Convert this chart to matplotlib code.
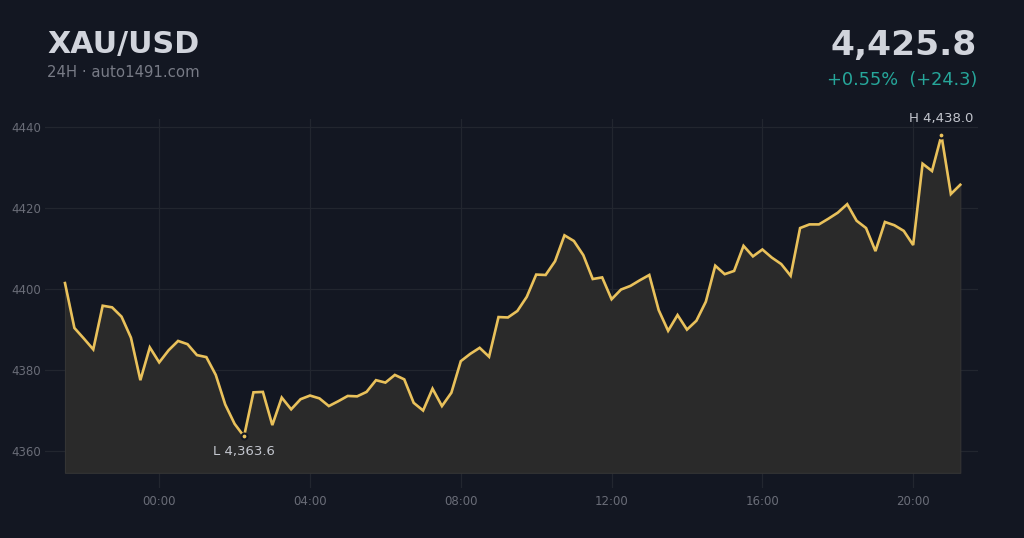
import matplotlib
matplotlib.use("Agg")
import matplotlib.pyplot as plt
import pandas as pd
import numpy as np

title = "XAU/USD"
subtitle = "24H · auto1491.com"
last_price = "4,425.8"
change_text = "+0.55%  (+24.3)"

start_time = "2024-01-01 21:30"
prices = [
    4401.5, 4390.4, 4387.8, 4385.1, 4395.9, 4395.5, 4393.2, 4388.0, 4377.5, 4385.6,
    4381.9, 4384.9, 4387.2, 4386.4, 4383.7, 4383.2, 4378.8, 4371.5, 4366.7, 4363.6,
    4374.5, 4374.6, 4366.4, 4373.2, 4370.3, 4372.8, 4373.7, 4373.0, 4371.1, 4372.3,
    4373.6, 4373.5, 4374.6, 4377.5, 4376.9, 4378.8, 4377.7, 4371.9, 4370.0, 4375.4,
    4371.1, 4374.4, 4382.2, 4384.0, 4385.5, 4383.3, 4393.1, 4393.0, 4394.6, 4398.1,
    4403.6, 4403.5, 4406.9, 4413.3, 4411.9, 4408.4, 4402.5, 4402.9, 4397.5, 4399.9,
    4400.8, 4402.2, 4403.5, 4394.8, 4389.7, 4393.6, 4390.0, 4392.2, 4396.9, 4405.8,
    4403.7, 4404.5, 4410.7, 4408.1, 4409.8, 4407.8, 4406.2, 4403.3, 4415.1, 4416.0,
    4416.0, 4417.4, 4418.9, 4421.0, 4416.9, 4415.1, 4409.4, 4416.6, 4415.8, 4414.4,
    4410.9, 4431.0, 4429.2, 4438.0, 4423.5, 4425.8,
]
yticks = [4360, 4380, 4400, 4420, 4440]
xtick_labels = ["00:00", "04:00", "08:00", "12:00", "16:00", "20:00"]

times = pd.date_range(start_time, periods=len(prices), freq="15min")
prices_arr = np.array(prices)

BG = "#131722"
GRID = "#22262f"
LINE = "#e9c15b"
FILL = "#2a2a2a"

fig = plt.figure(figsize=(10.24, 5.38), dpi=100, facecolor=BG)
ax = fig.add_axes([45 / 1024, 1 - 488 / 538, (978 - 45) / 1024, (488 - 119) / 538])
ax.set_facecolor(BG)

fill_base = 4354.6
ax.fill_between(times, prices_arr, fill_base, facecolor=FILL, edgecolor="#343434",
                linewidth=0.8, zorder=2)
ax.plot(times, prices_arr, color=LINE, lw=1.9, zorder=3, solid_joinstyle="miter")

i_lo = int(np.argmin(prices_arr))
i_hi = int(np.argmax(prices_arr))
ax.scatter([times[i_lo]], [prices_arr[i_lo]], s=18, color=LINE, edgecolor=BG, linewidth=1.5, zorder=4)
ax.scatter([times[i_hi]], [prices_arr[i_hi]], s=18, color=LINE, edgecolor=BG, linewidth=1.5, zorder=4)
ax.annotate(f"L {prices_arr[i_lo]:,.1f}", (times[i_lo], prices_arr[i_lo]), xytext=(0, -11),
            textcoords="offset points", ha="center", va="center", color="#c3c6ce", fontsize=9.5)
ax.annotate(f"H {prices_arr[i_hi]:,.1f}", (times[i_hi], prices_arr[i_hi]), xytext=(0, 12),
            textcoords="offset points", ha="center", va="center", color="#c3c6ce", fontsize=9.5)

t0 = pd.Timestamp("2024-01-02 00:00")
ax.set_xlim(t0 - pd.Timedelta(hours=3.03), t0 + pd.Timedelta(hours=21.72))
ax.set_ylim(4350.85, 4442.05)

xt = [t0 + pd.Timedelta(hours=4 * k) for k in range(len(xtick_labels))]
ax.set_xticks(xt)
ax.set_xticklabels(xtick_labels)
ax.set_yticks(yticks)
ax.set_yticklabels([str(v) for v in yticks])
ax.tick_params(axis="both", length=0, colors="#6a6d78", labelsize=8.5)
ax.tick_params(axis="x", pad=5)
ax.tick_params(axis="y", pad=3)
ax.grid(True, color=GRID, lw=0.9, zorder=1)
for s in ax.spines.values():
    s.set_visible(False)

fig.text(47 / 1024, 1 - 53.3 / 538, title, color="#d1d4dc", fontsize=21.7, fontweight="bold", ha="left", va="baseline")
fig.text(47 / 1024, 1 - 77.5 / 538, subtitle, color="#787b86", fontsize=10.7, ha="left", va="baseline")
fig.text(977 / 1024, 1 - 55.5 / 538, last_price, color="#d1d4dc", fontsize=24.8, fontweight="bold", ha="right", va="baseline")
fig.text(977 / 1024, 1 - 85 / 538, change_text, color="#26a69a", fontsize=12.8, ha="right", va="baseline")

fig.savefig("out.png", dpi=100, facecolor=BG)
